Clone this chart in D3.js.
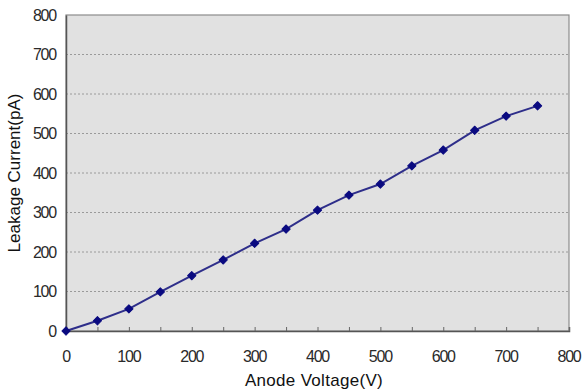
<!DOCTYPE html>
<html>
<head>
<meta charset="utf-8">
<script src="https://cdn.jsdelivr.net/npm/d3@7"></script>
<style>
  html, body { margin: 0; padding: 0; background: #fff; }
  svg text { font-family: "Liberation Sans", Arial, sans-serif; }
</style>
</head>
<body>
<div id="chart"></div>
<script>
// Anode voltage (V) vs leakage current (pA)
const voltages = [0, 50, 100, 150, 200, 250, 300, 350, 400, 450, 500, 550, 600, 650, 700, 750];
const currents = [0, 26, 56, 99, 140, 180, 222, 258, 306, 344, 372, 418, 458, 508, 544, 570];
const xTicks = [0, 100, 200, 300, 400, 500, 600, 700, 800];
const xMinorTicks = [0, 50, 100, 150, 200, 250, 300, 350, 400, 450, 500, 550, 600, 650, 700, 750, 800];
const yTicks = [0, 100, 200, 300, 400, 500, 600, 700, 800];

const W = 584, H = 392;
const margin = { top: 15, right: 15, bottom: 61, left: 66 };
const width = W - margin.left - margin.right;
const height = H - margin.top - margin.bottom;

const x = d3.scaleLinear().domain([0, 800]).range([0, width]);
const y = d3.scaleLinear().domain([0, 800]).range([height, 0]);

const svg = d3.select('#chart').append('svg')
  .attr('width', W)
  .attr('height', H);

const g = svg.append('g')
  .attr('transform', `translate(${margin.left},${margin.top})`);

// plot background
g.append('rect')
  .attr('width', width)
  .attr('height', height)
  .attr('fill', '#e1e1e1');

// gridlines
g.append('g')
  .selectAll('line')
  .data(yTicks.filter(d => d > 0 && d < 800))
  .enter()
  .append('line')
  .attr('x1', 0)
  .attr('x2', width)
  .attr('y1', d => y(d))
  .attr('y2', d => y(d))
  .attr('stroke', '#9a9a9a')
  .attr('stroke-width', 1)
  .attr('stroke-dasharray', '2,2');

// border
g.append('rect')
  .attr('width', width)
  .attr('height', height)
  .attr('fill', 'none')
  .attr('stroke', '#8c8c8c')
  .attr('stroke-width', 1.2);

// x axis with inner ticks
const xAxis = g.append('g')
  .attr('transform', `translate(0,${height})`)
  .call(d3.axisBottom(x).tickValues(xMinorTicks).tickSize(-4).tickFormat(''));
xAxis.select('.domain').attr('stroke', '#555').attr('stroke-width', 1.5);
xAxis.selectAll('.tick line').attr('stroke', '#666');

g.append('g')
  .selectAll('text')
  .data(xTicks)
  .enter()
  .append('text')
  .attr('x', d => x(d))
  .attr('y', height + 31)
  .attr('text-anchor', 'middle')
  .attr('font-size', '16px')
  .attr('letter-spacing', '-1.2px')
  .attr('fill', '#2a2a2a')
  .text(d => d);

// y axis
const yAxis = g.append('g')
  .call(d3.axisLeft(y).tickValues(yTicks).tickSize(0).tickPadding(10));
yAxis.select('.domain').attr('stroke', '#555').attr('stroke-width', 1.5);
yAxis.selectAll('.tick text')
  .attr('font-size', '16px')
  .attr('letter-spacing', '-1.2px')
  .attr('fill', '#2a2a2a');

// axis titles
g.append('text')
  .attr('x', 248)
  .attr('y', height + 55)
  .attr('text-anchor', 'middle')
  .attr('font-size', '17px')
  .attr('letter-spacing', '0.3px')
  .attr('fill', '#111')
  .text('Anode Voltage(V)');

g.append('text')
  .attr('transform', 'rotate(-90)')
  .attr('x', -(173 - margin.top))
  .attr('y', -46)
  .attr('text-anchor', 'middle')
  .attr('font-size', '17px')
  .attr('fill', '#111')
  .text('Leakage Current(pA)');

// series
const data = voltages.map((v, i) => ({ v, c: currents[i] }));

g.append('path')
  .datum(data)
  .attr('fill', 'none')
  .attr('stroke', '#2e2e8a')
  .attr('stroke-width', 2)
  .attr('d', d3.line().x(d => x(d.v)).y(d => y(d.c)));

g.selectAll('.marker')
  .data(data)
  .enter()
  .append('path')
  .attr('class', 'marker')
  .attr('transform', d => `translate(${x(d.v)},${y(d.c)}) rotate(45)`)
  .attr('d', d3.symbol().type(d3.symbolSquare).size(34))
  .attr('fill', '#0a0a80')
  .attr('stroke', '#0a0a80')
  .attr('stroke-width', 1)
  .attr('stroke-linejoin', 'round');
</script>
</body>
</html>
